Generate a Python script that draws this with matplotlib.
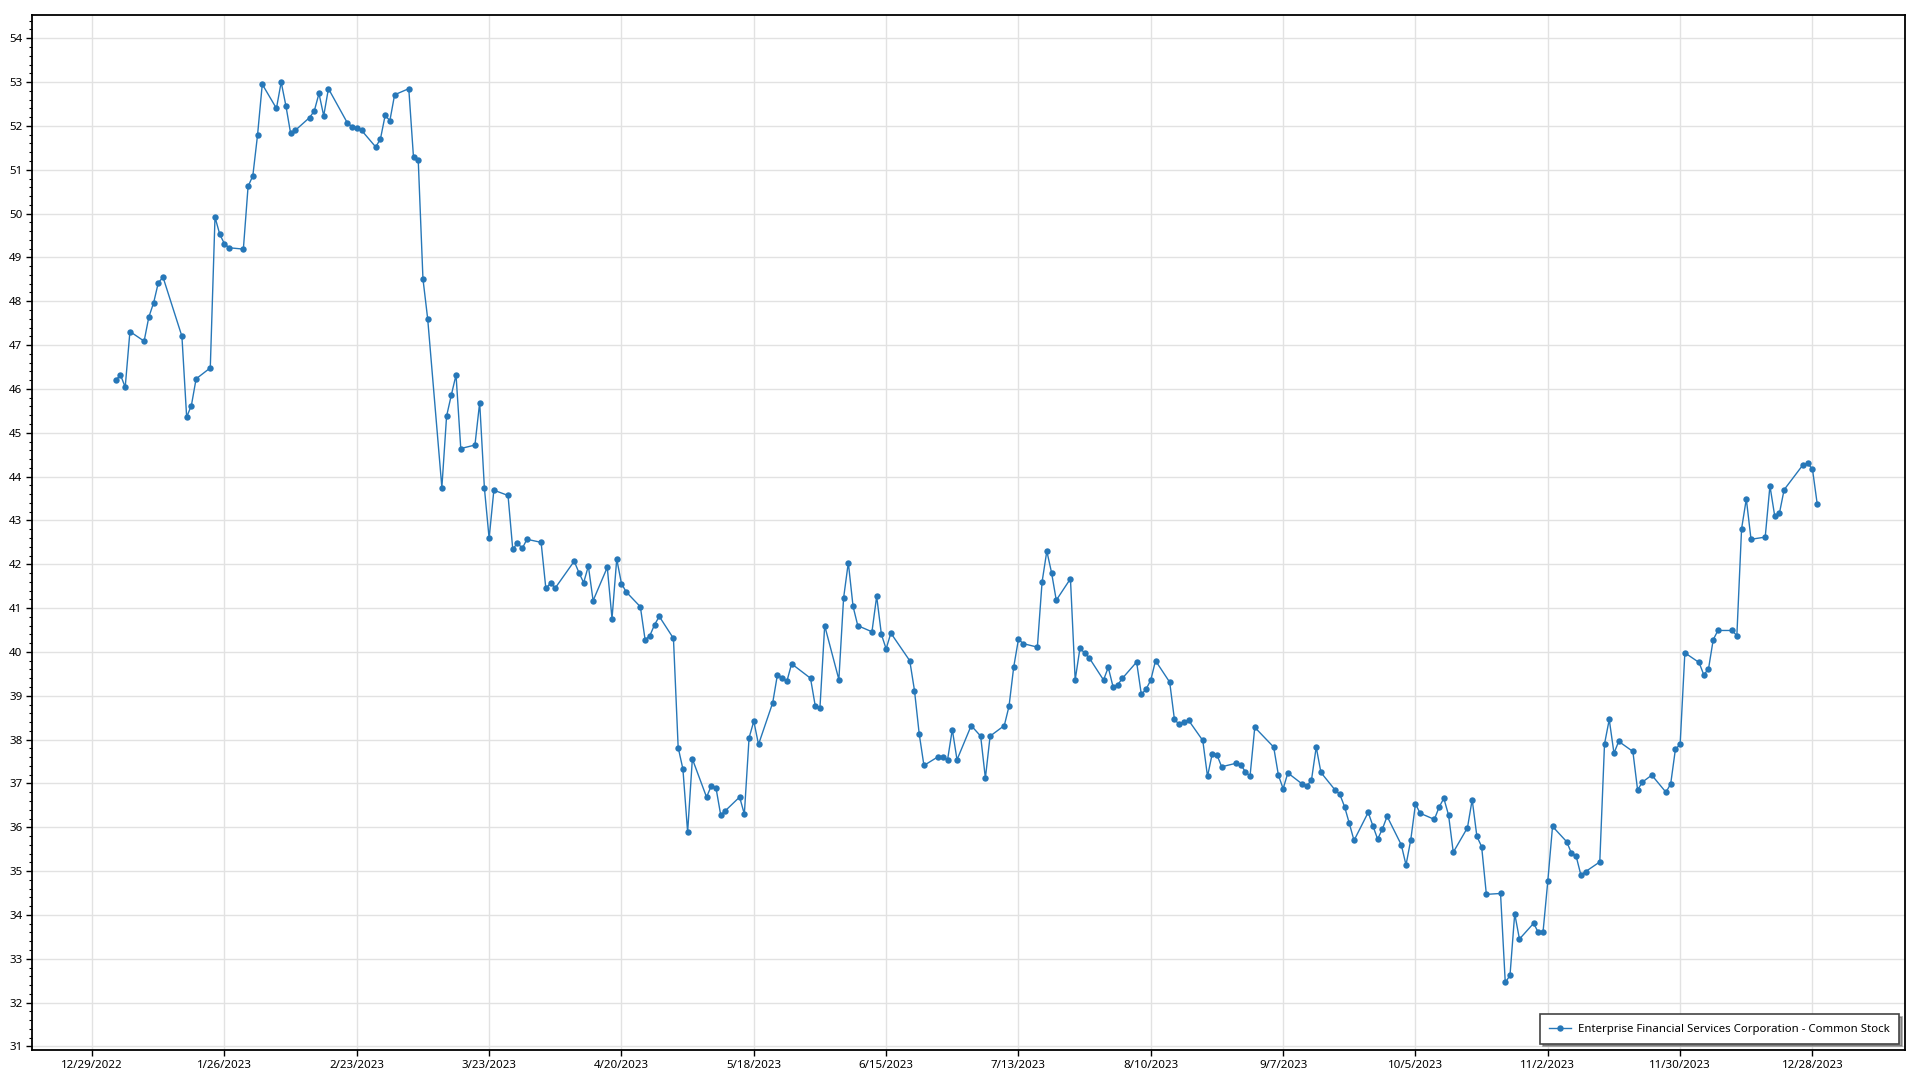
import numpy as np
import pandas as pd
import matplotlib
matplotlib.use("Agg")
import matplotlib.pyplot as plt
import matplotlib.dates as mdates
from matplotlib.ticker import MultipleLocator, FuncFormatter

# NYSE holidays of 2023 (no trading)
holidays = ["2023-01-02", "2023-01-16", "2023-02-20", "2023-04-07", "2023-05-29",
            "2023-06-19", "2023-07-04", "2023-09-04", "2023-11-23", "2023-12-25"]

# closing prices, one list per month
jan = [46.20, 46.32, 46.04, 47.31, 47.09, 47.64, 47.96, 48.42, 48.55, 47.20,
       45.36, 45.62, 46.23, 46.48, 49.92, 49.53, 49.31, 49.22, 49.19, 50.62]
feb = [50.86, 51.79, 52.95, 52.40, 53.00, 52.46, 51.83, 51.90, 52.19, 52.34,
       52.74, 52.23, 52.85, 52.07, 51.98, 51.95, 51.90, 51.52, 51.70]
mar = [52.24, 52.12, 52.71, 52.85, 51.28, 51.22, 48.51, 47.60, 43.75, 45.38,
       45.86, 46.32, 44.64, 44.72, 45.69, 43.74, 42.59, 43.69, 43.57, 42.34,
       42.49, 42.36, 42.57]
apr = [42.50, 41.45, 41.57, 41.46, 42.07, 41.81, 41.58, 41.96, 41.17, 41.93,
       40.76, 42.12, 41.56, 41.37, 41.03, 40.28, 40.37, 40.62, 40.81]
may = [40.31, 37.82, 37.33, 35.89, 37.56, 36.69, 36.94, 36.90, 36.28, 36.38,
       36.69, 36.30, 38.04, 38.42, 37.89, 38.84, 39.48, 39.41, 39.33, 39.73,
       39.40, 38.77]
jun = [38.73, 40.60, 39.37, 41.23, 42.04, 41.04, 40.60, 40.46, 41.27, 40.40,
       40.07, 40.43, 39.80, 39.12, 38.13, 37.41, 37.61, 37.61, 37.54, 38.23,
       37.54]
jul = [38.32, 38.08, 37.12, 38.08, 38.32, 38.76, 39.66, 40.29, 40.19, 40.11,
       41.60, 42.30, 41.81, 41.18, 41.67, 39.36, 40.08, 39.98, 39.86, 39.36]
aug = [39.65, 39.21, 39.25, 39.40, 39.77, 39.03, 39.15, 39.36, 39.80, 39.31,
       38.46, 38.35, 38.41, 38.44, 37.98, 37.16, 37.68, 37.65, 37.38, 37.46,
       37.43, 37.27, 37.17]
sep = [38.28, 37.83, 37.19, 36.88, 37.24, 36.99, 36.94, 37.08, 37.83, 37.25,
       36.85, 36.75, 36.47, 36.09, 35.70, 36.34, 36.03, 35.73, 35.96, 36.25]
oct_ = [35.60, 35.14, 35.71, 36.53, 36.32, 36.18, 36.46, 36.66, 36.28, 35.43,
        35.99, 36.63, 35.79, 35.56, 34.47, 34.49, 32.46, 32.62, 34.03, 33.45,
        33.81, 33.60]
nov = [33.62, 34.77, 36.02, 35.67, 35.41, 35.34, 34.91, 34.99, 35.21, 37.90,
       38.46, 37.69, 37.96, 37.73, 36.85, 37.03, 37.19, 36.80, 36.99, 37.78,
       37.89]
dec = [39.98, 39.76, 39.48, 39.61, 40.28, 40.49, 40.49, 40.37, 42.81, 43.49,
       42.57, 42.62, 43.79, 43.11, 43.16, 43.70, 44.27, 44.30, 44.17, 43.38]

series_name = "Enterprise Financial Services Corporation - Common Stock"

dates = pd.bdate_range("2023-01-03", "2023-12-29")
dates = dates[~dates.isin(pd.to_datetime(holidays))]
prices = jan + feb + mar + apr + may + jun + jul + aug + sep + oct_ + nov + dec

plt.rcParams["font.family"] = ["Noto Sans", "DejaVu Sans"]

fig = plt.figure(figsize=(19.2, 10.8), dpi=100)
ax = fig.add_axes([0.0168, 0.0278, 0.9754, 0.9583])

blue = "#2677b8"
ax.plot(dates, prices, color=blue, linewidth=1.0, marker="o", markersize=4.6,
        markeredgewidth=0, label=series_name)

ax.set_ylim(30.92, 54.53)
ax.set_xlim(pd.Timestamp("2022-12-16 08:00"), pd.Timestamp("2024-01-16 14:00"))

ax.yaxis.set_major_locator(MultipleLocator(1))
ax.yaxis.set_minor_locator(MultipleLocator(0.2))
ax.yaxis.set_major_formatter(FuncFormatter(lambda v, p: f"{v:.0f}"))

xticks = pd.date_range("2022-12-29", periods=14, freq="28D")
ax.set_xticks(xticks)
ax.set_xticklabels([f"{d.month}/{d.day}/{d.year}" for d in xticks])

ax.grid(True, which="major", color="#e2e2e2", linewidth=1.0)
ax.set_axisbelow(True)
for s in ax.spines.values():
    s.set_linewidth(1.3)
    s.set_color("black")
ax.tick_params(axis="both", which="major", length=4, width=1, labelsize=8.3, colors="black", pad=3)
ax.tick_params(axis="y", which="minor", length=2, width=0.8)
ax.tick_params(axis="x", which="minor", length=0)

leg = ax.legend(loc="lower right", fontsize=8.2, frameon=True, fancybox=False, shadow=True,
                edgecolor="#444444", borderaxespad=0.55, borderpad=0.8, handlelength=1.9,
                handletextpad=0.6)
leg.get_frame().set_linewidth(1.2)

fig.savefig("out.png", dpi=100)
